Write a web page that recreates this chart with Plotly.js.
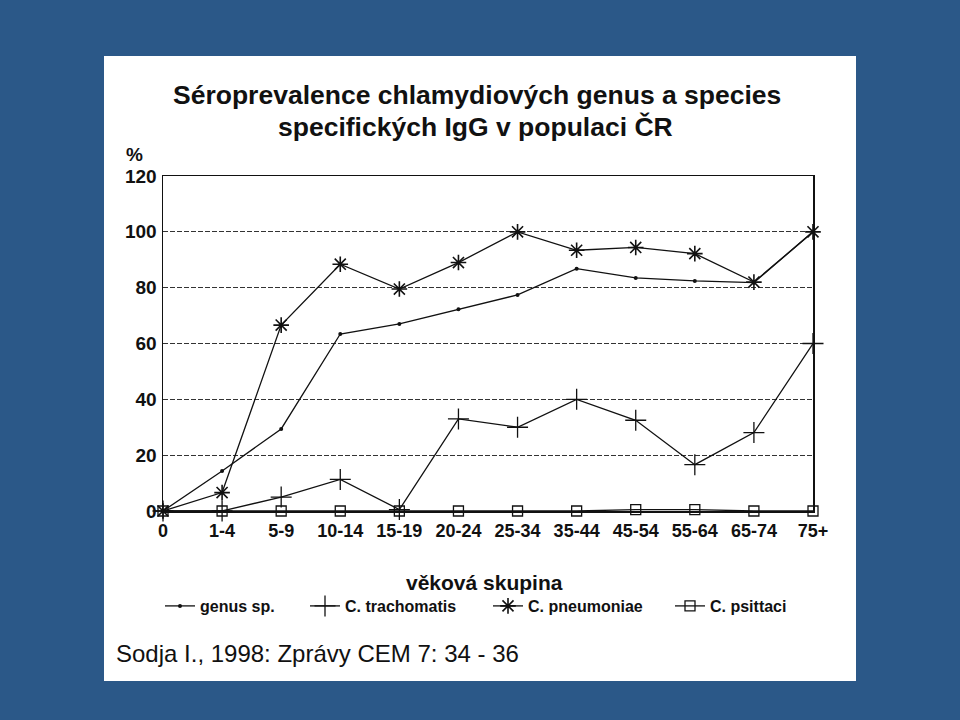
<!DOCTYPE html>
<html>
<head>
<meta charset="utf-8">
<script src="https://cdn.plot.ly/plotly-3.0.1.min.js"></script>
<style>
  html, body { margin: 0; padding: 0; width: 960px; height: 720px; background: #2b5888; overflow: hidden; }
  #chart { position: absolute; left: 104px; top: 56px; width: 752px; height: 625px; background: #fff; }
</style>
</head>
<body>
<div id="chart"></div>
<script>
const ageGroups = ["0", "1-4", "5-9", "10-14", "15-19", "20-24", "25-34", "35-44", "45-54", "55-64", "65-74", "75+"];
const genusSp      = [0, 14.3, 29.4, 63.4, 67, 72.3, 77.4, 86.8, 83.5, 82.4, 81.8, 100];
const cTrachomatis = [0, 0, 5, 11.3, 0.5, 33, 30, 40, 32.5, 16.6, 28.1, 60];
const cPneumoniae  = [0, 6.6, 66.6, 88.4, 79.5, 89, 100, 93.4, 94.4, 92.2, 82, 100];
const cPsittaci    = [0, 0, 0, 0, 0, 0, 0, 0, 0.5, 0.5, 0, 0];
const seriesNames  = ["genus sp.", "C. trachomatis", "C. pneumoniae", "C. psittaci"];
const yTicks = [0, 20, 40, 60, 80, 100, 120];

const FONT = "Liberation Sans, Arial, Helvetica, sans-serif";
const xIdx = ageGroups.map((_, i) => i);
const lineStyle = { color: "#111", width: 1.3 };

function trace(y, name, marker, legendId) {
  return {
    x: xIdx, y: y, name: name, type: "scatter", mode: "lines+markers",
    line: lineStyle, marker: marker, cliponaxis: false, legend: legendId
  };
}

const data = [
  trace(genusSp, seriesNames[0], { symbol: "circle", size: 4, color: "#111" }, "legend"),
  trace(cTrachomatis, seriesNames[1], { symbol: "cross-thin", size: 15, color: "#111", line: { color: "#111", width: 1.3 } }, "legend2"),
  trace(cPneumoniae, seriesNames[2], { symbol: "asterisk", size: 13, color: "#111", line: { color: "#111", width: 1.6 } }, "legend3"),
  trace(cPsittaci, seriesNames[3], { symbol: "square-open", size: 10, color: "#111", line: { color: "#111", width: 1.3 } }, "legend4")
];

// pixel helpers relative to plot area (left 163, bottom 511 in page px; w 650, h 335)
const px = (x) => (x - 163) / 650;
const py = (y) => (511 - y) / 335;

const legFont = { family: FONT, size: 16, color: "#111", weight: "bold" };
function leg(textX) {
  return { orientation: "h", x: px(textX - 40), y: py(606), xanchor: "left", yanchor: "middle",
           font: legFont, bgcolor: "rgba(0,0,0,0)", borderwidth: 0, itemwidth: 30 };
}

const layout = {
  width: 752, height: 625,
  margin: { l: 59, r: 43, t: 120, b: 170 },
  paper_bgcolor: "#ffffff", plot_bgcolor: "#ffffff",
  font: { family: FONT, color: "#111" },
  showlegend: true,
  legend: leg(200), legend2: leg(345), legend3: leg(528), legend4: leg(710),
  xaxis: {
    type: "linear", range: [0, 11],
    tickmode: "array", tickvals: xIdx, ticktext: ageGroups,
    tickfont: { family: FONT, size: 18, color: "#111", weight: "bold" },
    showgrid: false, zeroline: false,
    showline: true, linecolor: "#111", linewidth: 1.5, mirror: true,
    ticks: "", ticklabelstandoff: 3, fixedrange: true
  },
  yaxis: {
    range: [0, 120], tickmode: "array", tickvals: yTicks,
    tickfont: { family: FONT, size: 19, color: "#111", weight: "bold" },
    showgrid: true, gridcolor: "#333", gridwidth: 1, griddash: "5px,2px",
    zeroline: false, showline: true, linecolor: "#111", linewidth: 1.5, mirror: true,
    ticks: "", ticklabelstandoff: 1, fixedrange: true
  },
  annotations: [
    { text: "<b>Séroprevalence chlamydiových genus a species</b>",
      xref: "paper", yref: "paper", x: px(476.5), y: py(95.5), xanchor: "center", yanchor: "middle",
      showarrow: false, font: { family: FONT, size: 26.5, color: "#111" } },
    { text: "<b>specifických IgG v populaci ČR</b>",
      xref: "paper", yref: "paper", x: px(475), y: py(126.5), xanchor: "center", yanchor: "middle",
      showarrow: false, font: { family: FONT, size: 26.5, color: "#111" } },
    { text: "<b>%</b>", xref: "paper", yref: "paper", x: px(134), y: py(155),
      xanchor: "center", yanchor: "middle", showarrow: false, font: { family: FONT, size: 19, color: "#111" } },
    { text: "<b>věková skupina</b>", xref: "paper", yref: "paper", x: px(484), y: py(582),
      xanchor: "center", yanchor: "middle", showarrow: false, font: { family: FONT, size: 21, color: "#111" } },
    { text: "Sodja I., 1998: Zprávy CEM 7: 34 - 36", xref: "paper", yref: "paper", x: px(114), y: py(653),
      xanchor: "left", yanchor: "middle", showarrow: false, font: { family: FONT, size: 24, color: "#111" } }
  ]
};

Plotly.newPlot("chart", data, layout, { staticPlot: true, displayModeBar: false });
</script>
</body>
</html>
